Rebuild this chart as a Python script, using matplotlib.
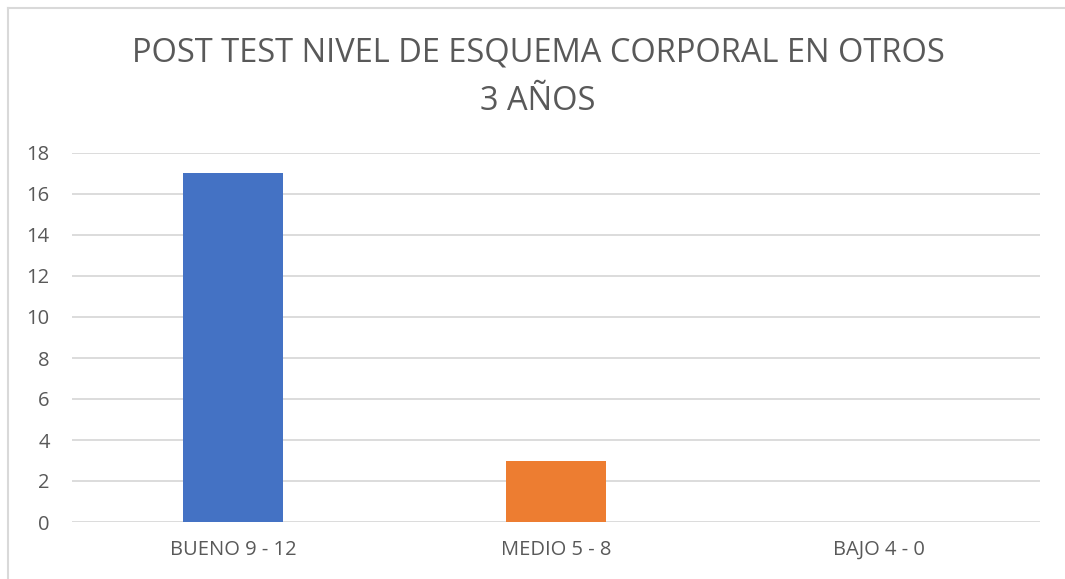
import matplotlib.pyplot as plt
from matplotlib.lines import Line2D

categorias = ["BUENO 9 - 12", "MEDIO 5 - 8", "BAJO 4 - 0"]
valores = [17, 3, 0]
colores = ["#4472C4", "#ED7D31", "#A5A5A5"]

plt.rcParams['font.family'] = ['Open Sans', 'DejaVu Sans']

fig = plt.figure(figsize=(10.65, 5.79), dpi=100)
ax = fig.add_axes([72/1065, 1-522/579, (1040-72)/1065, (522-153)/579])

x = range(len(categorias))
ax.bar(x, valores, width=0.31, color=colores, zorder=3)

ax.set_xlim(-0.5, 2.5)
ax.set_ylim(0, 18)
ax.set_yticks(range(0, 19, 2))
ax.set_xticks(list(x))
ax.set_xticklabels(categorias)
ax.grid(axis='y', color='#d9d9d9', linewidth=1.3, zorder=0)
for s in ax.spines.values():
    s.set_visible(False)
ax.tick_params(length=0, labelsize=14.5, labelcolor='#595959')
ax.tick_params(axis='x', pad=13)
ax.tick_params(axis='y', pad=16)

fig.text(538/1065, 1-53/579, "POST TEST NIVEL DE ESQUEMA CORPORAL EN OTROS",
         ha='center', va='center', fontsize=23.5, color='#595959')
fig.text(538/1065, 1-101/579, "3 AÑOS",
         ha='center', va='center', fontsize=23.5, color='#595959')

# borde del gráfico
fig.add_artist(Line2D([8/1065, 8/1065], [0, 1-8/579], color='#d9d9d9', lw=1.5))
fig.add_artist(Line2D([8/1065, 1], [1-8/579, 1-8/579], color='#d9d9d9', lw=1.5))

fig.savefig("out.png", dpi=100)
